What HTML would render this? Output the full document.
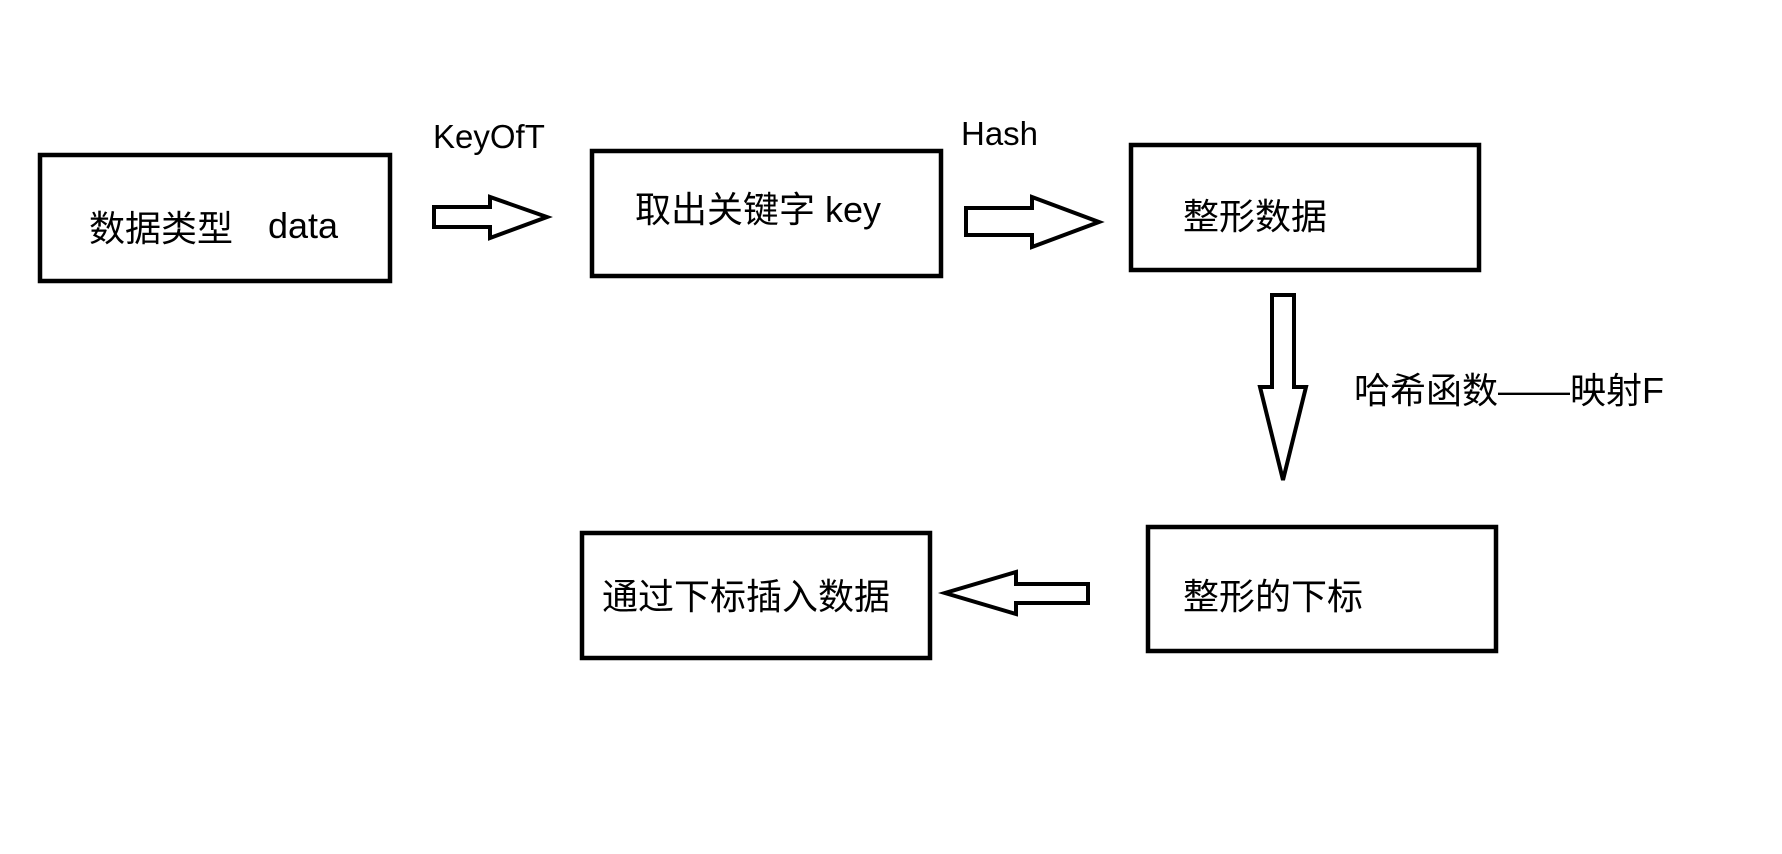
<!DOCTYPE html>
<html><head><meta charset="utf-8"><style>
html,body{margin:0;padding:0;background:#fff;}
svg text{font-family:"Liberation Sans","Noto Sans CJK SC",sans-serif;fill:#000;}
</style></head><body>
<svg width="1782" height="849" viewBox="0 0 1782 849" xmlns="http://www.w3.org/2000/svg">
<g fill="none" stroke="#000" stroke-width="4.5">
<rect x="40" y="155" width="350" height="126"/>
<rect x="592" y="151" width="349" height="125"/>
<rect x="1131" y="145" width="348" height="125"/>
<rect x="1148" y="527" width="348" height="124"/>
<rect x="582" y="533" width="348" height="125"/>
</g>
<g fill="#fff" stroke="#000" stroke-width="4" stroke-linejoin="miter">
<polygon points="434,207 490,207 490,197 547,217 490,238 490,227 434,227"/>
<polygon points="966,208 1032,208 1032,197 1099,222 1032,247 1032,235 966,235"/>
<polygon points="1272,295 1294,295 1294,387 1306,387 1283,480 1260,387 1272,387"/>
<polygon points="1088,584 1016,584 1016,572 945,593 1016,614 1016,603 1088,603"/>
</g>
<g font-size="36">
<text x="89" y="241">数据类型</text>
<text x="268" y="238">data</text>
<text x="433" y="148" font-size="33">KeyOfT</text>
<text x="961" y="145" font-size="33">Hash</text>
<text x="635" y="222">取出关键字 key</text>
<text x="1183" y="229">整形数据</text>
<text x="1354" y="403">哈希函数——映射F</text>
<text x="1183" y="609">整形的下标</text>
<text x="602" y="609">通过下标插入数据</text>
</g>
</svg>
</body></html>
